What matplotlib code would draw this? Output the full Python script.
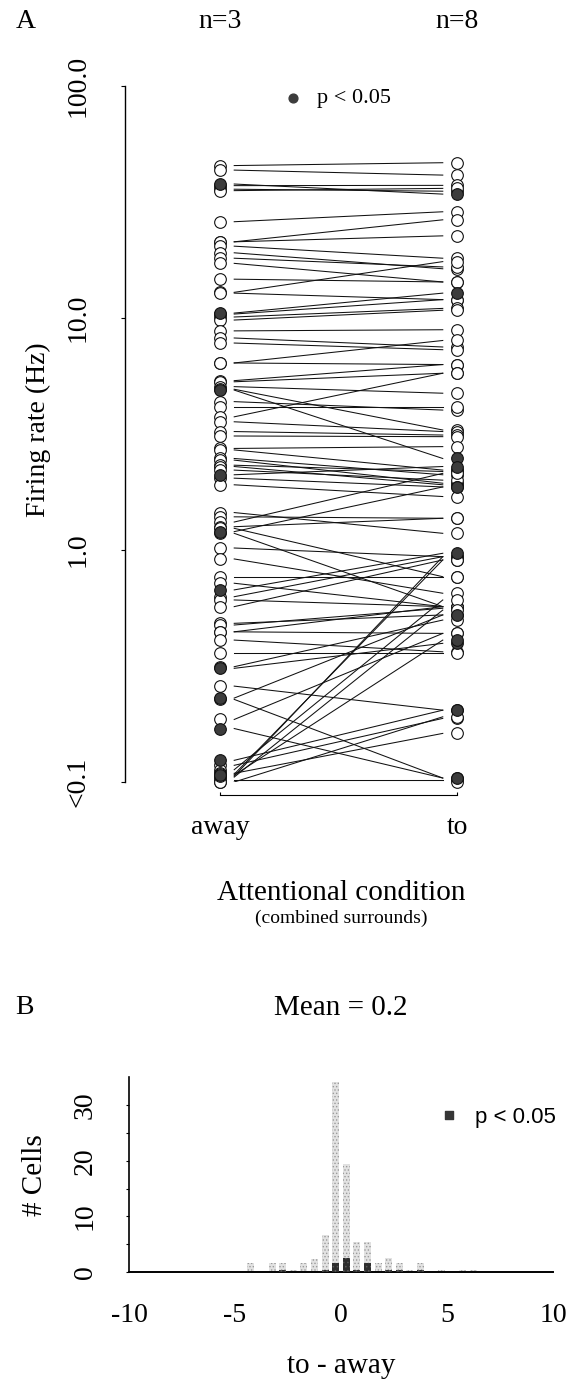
import matplotlib
matplotlib.use("Agg")
import matplotlib.pyplot as plt
from matplotlib.ticker import FixedLocator, NullLocator

plt.rcParams['font.family'] = ['Liberation Serif', 'DejaVu Serif']
plt.rcParams['axes.unicode_minus'] = False
plt.rcParams['hatch.linewidth'] = 0.6

# ---------------- Panel A: firing rate per cell (Hz), attention away vs. to
rate_away = [45.4, 43.4, 37.8, 37.2, 35.9, 35.4, 26.0, 21.3, 21.3, 20.4,
             19.1, 18.1, 17.2, 14.7, 12.9, 12.8, 10.5, 10.4, 10.1, 9.8,
             8.8, 8.2, 7.8, 6.4, 6.4,
             5.37, 5.31, 5.06, 4.93, 4.89, 4.36, 4.15, 3.75, 3.57, 3.24,
             3.10, 2.74, 2.70, 2.48, 2.44, 2.32, 2.29, 2.21, 2.11, 2.04,
             1.91, 1.45, 1.39, 1.32, 1.26, 1.20, 1.24, 1.18, 1.02, 0.915,
             0.767, 0.719, 0.673, 0.629, 0.609, 0.570,
             0.483, 0.475, 0.444, 0.444, 0.409, 0.359, 0.314, 0.309, 0.259, 0.230,
             0.227, 0.186, 0.170, 0.124, 0.118, 0.113, 0.109, 0.107, 0.105, 0.102,
             0.100, 0.100, 0.106, 0.108]
rate_to = [46.7, 41.3, 34.2, 37.3, 35.2, 36.2, 28.7, 26.5, 22.6, 18.1,
           16.3, 16.6, 14.3, 14.3, 17.5, 12.0, 12.8, 12.0, 11.0, 10.8,
           8.9, 7.5, 7.3, 8.0, 6.3,
           6.3, 5.78, 4.74, 3.29, 2.48, 4.01, 4.15, 5.78, 3.24, 3.13,
           3.08, 2.79, 2.21, 2.11, 1.94, 2.18, 1.91, 2.00, 2.29, 1.87,
           1.70, 1.18, 1.37, 2.14, 1.37, 1.87, 0.767, 0.570, 0.936, 0.651,
           0.767, 0.570, 0.968, 0.936, 0.570, 0.906,
           0.525, 0.561, 0.570, 0.437, 0.364, 0.359, 0.499, 0.396, 0.204, 0.525,
           0.104, 0.437, 0.104, 0.204, 0.188, 0.609, 0.162, 0.409, 0.551, 0.102,
           0.100, 0.191, 0.936, 0.906]
significant = [0, 0, 1, 0, 0, 0, 0, 0, 0, 0,
               0, 0, 0, 0, 0, 0, 1, 0, 0, 0,
               0, 0, 0, 0, 0,
               0, 0, 0, 0, 1, 0, 0, 0, 0, 0,
               0, 0, 0, 0, 0, 0, 0, 0, 1, 0,
               0, 0, 0, 0, 0, 1, 0, 0, 0, 0,
               0, 0, 1, 0, 0, 0,
               0, 0, 0, 0, 0, 0, 0, 1, 0, 1,
               0, 0, 1, 1, 0, 0, 0, 1, 0, 0,
               0, 0, 0, 0]
conditions = ['away', 'to']
n_labels = ['n=3', 'n=8']
rate_ticks = [0.1, 1.0, 10.0, 100.0]
rate_ticklabels = ['<0.1', '1.0', '10.0', '100.0']

# ---------------- Panel B: histogram of (to - away)
bin_centers = [-4.25, -3.25, -2.75, -2.25, -1.75, -1.25, -0.75, -0.25, 0.25,
               0.75, 1.25, 1.75, 2.25, 2.75, 3.25, 3.75, 4.75, 5.75, 6.25]
cells_all = [1.6, 1.6, 1.6, 0.3, 1.6, 2.4, 6.6, 34.2, 19.4,
             5.4, 5.4, 1.6, 2.5, 1.6, 0.4, 1.6, 0.3, 0.3, 0.3]
cells_sig = [0.0, 0.0, 0.4, 0.0, 0.0, 0.0, 0.4, 1.6, 2.5,
             0.4, 1.6, 0.0, 0.4, 0.4, 0.0, 0.4, 0.0, 0.0, 0.0]
diff_ticks = [-10, -5, 0, 5, 10]
count_ticks = [0, 10, 20, 30]

W, H = 578, 1391
fig = plt.figure(figsize=(W / 100, H / 100), dpi=100)


def fx(px):
    return px / W


def fy(py):
    return 1 - py / H


TXT = 20

# ================= Panel A =================
axA = fig.add_axes([fx(125), fy(782), fx(560) - fx(125), (782 - 86) / H])
axA.set_yscale('log')
axA.set_ylim(0.1, 100)
axA.set_xlim(-0.4008, 1.4346)

gap = 0.06
for a, t in zip(rate_away, rate_to):
    axA.plot([gap, 1 - gap], [a, t], color='#111111', lw=0.75, zorder=2)

open_idx = [i for i, s in enumerate(significant) if not s]
sig_idx = [i for i, s in enumerate(significant) if s]
for col, rates in enumerate([rate_away, rate_to]):
    axA.plot([col] * len(open_idx), [rates[i] for i in open_idx], 'o',
             ms=8.4, mfc='white', mec='#111111', mew=0.8, clip_on=False,
             zorder=3)
    axA.plot([col] * len(sig_idx), [rates[i] for i in sig_idx], 'o',
             ms=8.4, mfc='#3c3c3c', mec='#111111', mew=0.8, clip_on=False,
             zorder=4)

for s in ['top', 'right']:
    axA.spines[s].set_visible(False)
axA.spines['left'].set_bounds(0.1, 100)
axA.spines['left'].set_linewidth(1.0)
axA.spines['bottom'].set_position(('outward', 9.4))
axA.spines['bottom'].set_bounds(0, 1)
axA.spines['bottom'].set_linewidth(0.8)

axA.yaxis.set_major_locator(FixedLocator(rate_ticks))
axA.yaxis.set_minor_locator(NullLocator())
axA.set_yticklabels(rate_ticklabels, rotation=90, va='center', fontsize=TXT)
axA.tick_params(axis='y', direction='out', length=3, width=0.8, pad=22)

axA.set_xticks([0, 1])
axA.set_xticklabels(conditions, fontsize=TXT)
axA.tick_params(axis='x', direction='in', length=2.5, width=0.8, pad=14)

fig.text(fx(38), fy(430), 'Firing rate (Hz)', rotation=90, ha='center',
         va='center', fontsize=TXT)
fig.text(fx(26), fy(22), 'A', ha='center', va='center', fontsize=TXT)
for col, lab in zip([220, 457], n_labels):
    fig.text(fx(col), fy(22), lab, ha='center', va='center', fontsize=TXT)

fig.text(fx(341), fy(893), 'Attentional condition', ha='center',
         va='center', fontsize=21)
fig.text(fx(341), fy(918), '(combined surrounds)', ha='center',
         va='center', fontsize=14)

# significance key
axA.scatter([fx(293)], [fy(98)], s=40, marker='o', color='#3c3c3c',
            transform=fig.transFigure, clip_on=False, zorder=5)
fig.text(fx(317), fy(98), 'p < 0.05', ha='left', va='center', fontsize=16)

# ================= Panel B =================
x_left, x_right = 129, 553
axB = fig.add_axes([fx(x_left), fy(1272), fx(x_right) - fx(x_left),
                    (1272 - 1077.4) / H])
axB.set_xlim(-10, 10)
axB.set_ylim(0, 35)

axB.bar(bin_centers, cells_all, width=0.33, color='#e2e2e2',
        edgecolor='#9a9a9a', linewidth=0, hatch='.....', zorder=2)
axB.bar(bin_centers, cells_sig, width=0.33, color='#2e2e2e',
        edgecolor='#5a5a5a', linewidth=0, hatch='....', zorder=3)

for s in ['top', 'right']:
    axB.spines[s].set_visible(False)
axB.spines['left'].set_linewidth(1.2)
axB.spines['bottom'].set_linewidth(1.4)

axB.set_xticks(diff_ticks)
axB.set_xticklabels([str(t) for t in diff_ticks], fontsize=TXT)
axB.tick_params(axis='x', length=0, pad=22)

axB.yaxis.set_major_locator(FixedLocator(count_ticks))
axB.yaxis.set_minor_locator(FixedLocator([5, 15, 25]))
axB.set_yticklabels([str(t) for t in count_ticks], rotation=90,
                    va='center', fontsize=TXT)
axB.tick_params(axis='y', which='both', direction='out', length=2.5,
                width=0.8, pad=20)

fig.text(fx(24), fy(1008), 'B', ha='center', va='center', fontsize=TXT)
fig.text(fx(341), fy(1008), 'Mean = 0.2', ha='center', va='center',
         fontsize=21)
fig.text(fx(35), fy(1175), '# Cells', rotation=90, ha='center',
         va='center', fontsize=21)
fig.text(fx(341), fy(1366), 'to - away', ha='center', va='center',
         fontsize=21)

axB.scatter([fx(449)], [fy(1115)], s=40, marker='s', color='#363636',
            transform=fig.transFigure, clip_on=False, zorder=5)
fig.text(fx(475), fy(1117), 'p < 0.05', ha='left', va='center',
         fontsize=16, family=['Liberation Sans', 'DejaVu Sans'])

fig.savefig('out.png', dpi=100)
